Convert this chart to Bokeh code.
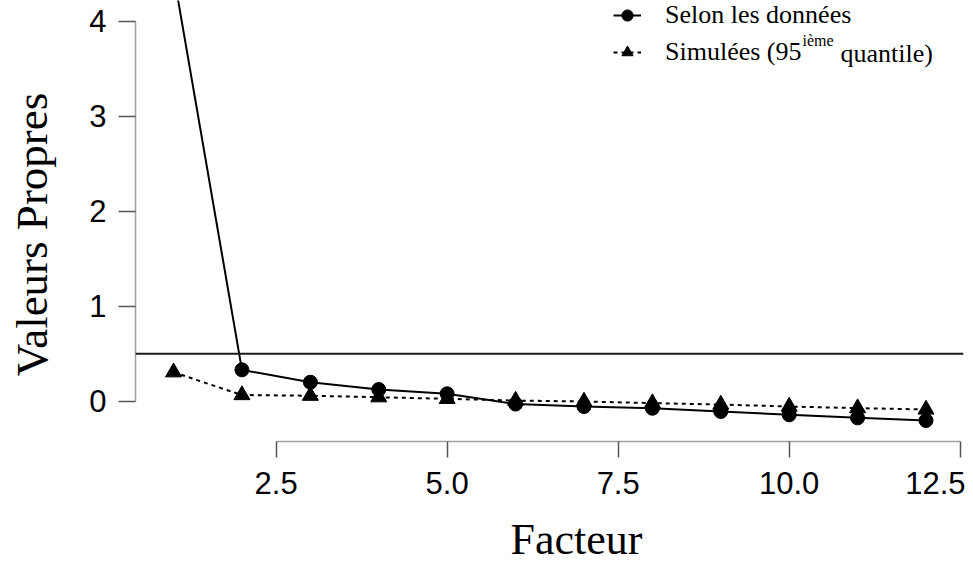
import math
from bokeh.plotting import figure
from bokeh.models import (Range1d, Span, Legend, LegendItem, Label,
                          FixedTicker, PrintfTickFormatter)
from bokeh.embed import file_html
from bokeh.resources import INLINE

# ---- data ----
factors = [1, 2, 3, 4, 5, 6, 7, 8, 9, 10, 11, 12]
observed = [4.50, 0.33, 0.20, 0.123, 0.078, -0.03, -0.056, -0.074, -0.108, -0.143, -0.175, -0.203]
simulated = [0.305, 0.065, 0.058, 0.042, 0.025, 0.007, -0.003, -0.02, -0.035, -0.056, -0.073, -0.087]
threshold = 0.5
x_ticks = [2.5, 5.0, 7.5, 10.0, 12.5]
y_ticks = [0, 1, 2, 3, 4]
series_labels = ["Selon les données", "Simulées (95"]
sup_text = "ième"
tail_text = "quantile)"
x_title = "Facteur"
y_title = "Valeurs Propres"

SERIF = "Liberation Serif"
SANS = "Liberation Sans"

p = figure(width=965, height=558, output_backend="svg", toolbar_location=None,
           x_range=Range1d(0.444, 12.548), y_range=Range1d(-0.424, 4.218),
           min_border_left=135, min_border_right=2, min_border_top=0,
           min_border_bottom=117)
p.outline_line_color = None
p.xgrid.visible = False
p.ygrid.visible = False
p.background_fill_color = "white"

p.add_layout(Span(location=threshold, dimension="width", line_color="#1a1a1a",
                  line_width=2))

r1 = p.line(factors, observed, line_color="black", line_width=2)
s1 = p.scatter(factors, observed, marker="circle", size=14, color="black")
r2 = p.line(factors, simulated, line_color="black", line_width=2, line_dash="4 4")
s2 = p.scatter(factors, simulated, marker="triangle", size=16, color="black")

legend = Legend(items=[LegendItem(label=series_labels[0], renderers=[r1, s1]),
                       LegendItem(label=series_labels[1], renderers=[r2, s2])],
                location=(478, 374), padding=0, margin=0,
                border_line_color=None, background_fill_alpha=0,
                label_text_font=SERIF, label_text_font_size="26px",
                label_text_color="black",
                glyph_width=28, glyph_height=30, label_height=30,
                spacing=7, label_standoff=24)
p.add_layout(legend)

p.add_layout(Label(x=667, y=401, x_units="screen", y_units="screen", text=sup_text,
                   text_font=SERIF, text_font_size="16px", text_align="left",
                   text_color="black", text_baseline="alphabetic"))
p.add_layout(Label(x=705, y=388, x_units="screen", y_units="screen", text=tail_text,
                   text_font=SERIF, text_font_size="26px", text_align="left",
                   text_color="black", text_baseline="alphabetic"))

# axes
for ax, ticks, bnds, fmt in ((p.yaxis[0], y_ticks, (0, 4), "%d"),
                             (p.xaxis[0], x_ticks, (2.5, 12.5), "%.1f")):
    ax.ticker = FixedTicker(ticks=ticks)
    ax.bounds = bnds
    ax.formatter = PrintfTickFormatter(format=fmt)
    ax.major_tick_in = 0
    ax.minor_tick_line_color = None
    ax.axis_line_color = "#a0a0a0"
    ax.axis_line_width = 1.5
    ax.major_tick_line_color = "#555555"
    ax.major_tick_line_width = 1.5
    ax.major_label_text_font = SANS
    ax.major_label_text_font_size = "31px"
    ax.major_label_text_color = "black"

p.yaxis.major_tick_out = 17
p.yaxis.major_label_standoff = 12
p.xaxis.major_tick_out = 16
p.xaxis.major_label_standoff = 14

p.add_layout(Label(x=375, y=6, x_units="screen", y_units="screen", text=x_title,
                   text_font=SERIF, text_font_size="44px", text_align="left",
                   text_color="black", text_baseline="alphabetic"), "below")
p.add_layout(Label(x=-5, y=207, x_units="screen", y_units="screen", text=y_title,
                   angle=math.pi / 2, text_font=SERIF, text_font_size="45px",
                   text_color="black", text_align="center",
                   text_baseline="alphabetic"), "left")

open("out.html", "w").write(file_html(p, INLINE))
